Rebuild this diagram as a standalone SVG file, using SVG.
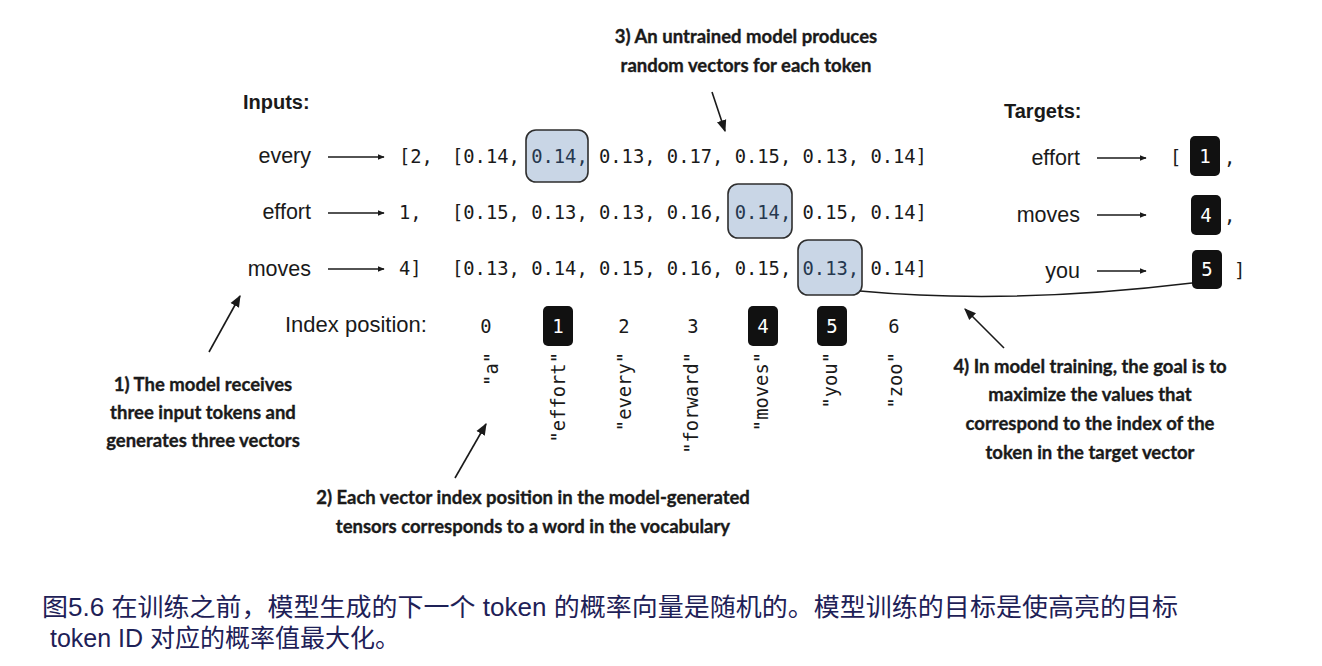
<svg xmlns="http://www.w3.org/2000/svg" width="1322" height="666" viewBox="0 0 1322 666">
<style>
.w{font-family:"Liberation Sans",Arial,sans-serif;font-size:21.5px;fill:#1a1a1a}
.h{font-family:"Liberation Sans",Arial,sans-serif;font-size:20px;font-weight:bold;fill:#1a1a1a}
.m{font-family:"DejaVu Sans Mono","Liberation Mono",monospace;font-size:18.8px;fill:#1a1a1a}
.mw{font-family:"DejaVu Sans Mono","Liberation Mono",monospace;font-size:19px;fill:#ffffff}
.a{font-family:Lato,"Open Sans",sans-serif;font-size:18.5px;font-weight:bold;fill:#1a1a1a;stroke:#1a1a1a;stroke-width:0.35;text-anchor:middle}
.hl{fill:#c9d6e6;stroke:#2e2e2e;stroke-width:1.6}
.bk{fill:#111111}
.ln{stroke:#1a1a1a;stroke-width:1.6;fill:none}
.cap{font-family:"Liberation Sans","Noto Sans CJK SC",sans-serif;font-size:25px;fill:#1e2157}
</style>
<defs>
<marker id="ah" viewBox="0 0 10 10" refX="9" refY="5" markerWidth="7" markerHeight="7" orient="auto" markerUnits="userSpaceOnUse">
<path d="M0,1 L10,5 L0,9 z" fill="#1a1a1a"/>
</marker>
<marker id="ah2" viewBox="0 0 10 10" refX="9" refY="5" markerWidth="12" markerHeight="12" orient="auto" markerUnits="userSpaceOnUse">
<path d="M0,1 L10,5 L0,9 z" fill="#1a1a1a"/>
</marker>
</defs>

<g id="highlights">
<rect class="hl" x="526" y="130" width="62" height="52" rx="10"/>
<rect class="hl" x="728" y="184" width="64" height="54" rx="10"/>
<rect class="hl" x="798" y="240" width="64" height="55" rx="10"/>
</g>

<g id="connectors">
<line class="ln" x1="328" y1="157" x2="384" y2="157" marker-end="url(#ah)"/>
<line class="ln" x1="328" y1="213" x2="384" y2="213" marker-end="url(#ah)"/>
<line class="ln" x1="328" y1="269" x2="384" y2="269" marker-end="url(#ah)"/>
<line class="ln" x1="1097" y1="158" x2="1146" y2="158" marker-end="url(#ah)"/>
<line class="ln" x1="1097" y1="215" x2="1146" y2="215" marker-end="url(#ah)"/>
<line class="ln" x1="1097" y1="271" x2="1146" y2="271" marker-end="url(#ah)"/>
<path class="ln" d="M860,291 Q1010,305 1192,283"/>
<line class="ln" x1="209" y1="352" x2="240" y2="296" marker-end="url(#ah2)"/>
<line class="ln" x1="455" y1="478" x2="486" y2="424" marker-end="url(#ah2)"/>
<line class="ln" x1="712" y1="92" x2="725" y2="131" marker-end="url(#ah2)"/>
<line class="ln" x1="1004" y1="348" x2="965" y2="309" marker-end="url(#ah2)"/>
</g>

<g id="inputs">
<text class="h" x="243" y="109">Inputs:</text>
<text class="w" x="311" y="163" text-anchor="end">every</text>
<text class="w" x="311" y="219" text-anchor="end">effort</text>
<text class="w" x="311" y="276" text-anchor="end">moves</text>
<text class="m" x="399" y="163">[2,</text>
<text class="m" x="399" y="219">1,</text>
<text class="m" x="399" y="275">4]</text>
</g>

<g id="vectors">
<text class="m" x="452" y="163">[0.14, <tspan fill="#26384f">0.14,</tspan> 0.13, 0.17, 0.15, 0.13, 0.14]</text>
<text class="m" x="452" y="219">[0.15, 0.13, 0.13, 0.16, <tspan fill="#26384f">0.14,</tspan> 0.15, 0.14]</text>
<text class="m" x="452" y="275">[0.13, 0.14, 0.15, 0.16, 0.15, <tspan fill="#26384f">0.13,</tspan> 0.14]</text>
</g>

<g id="targets">
<text class="h" x="1004" y="118">Targets:</text>
<text class="w" x="1080" y="165" text-anchor="end">effort</text>
<text class="w" x="1080" y="222" text-anchor="end">moves</text>
<text class="w" x="1080" y="278" text-anchor="end">you</text>
<text class="m" x="1170" y="164">[</text>
<rect class="bk" x="1190" y="136" width="30" height="40" rx="5"/>
<text class="mw" x="1205" y="163" text-anchor="middle">1</text>
<text class="m" x="1224" y="164">,</text>
<rect class="bk" x="1191" y="195" width="30" height="40" rx="5"/>
<text class="mw" x="1206" y="222" text-anchor="middle">4</text>
<text class="m" x="1224" y="222">,</text>
<rect class="bk" x="1192" y="250" width="30" height="39" rx="5"/>
<text class="mw" x="1207" y="276" text-anchor="middle">5</text>
<text class="m" x="1234" y="277">]</text>
</g>

<g id="index">
<text class="w" x="285" y="332" style="font-size:22px">Index position:</text>
<text class="m" x="486" y="333" text-anchor="middle">0</text>
<rect class="bk" x="543" y="306" width="30" height="40" rx="5"/>
<text class="mw" x="558" y="333" text-anchor="middle">1</text>
<text class="m" x="624" y="333" text-anchor="middle">2</text>
<text class="m" x="693" y="333" text-anchor="middle">3</text>
<rect class="bk" x="748" y="306" width="30" height="40" rx="5"/>
<text class="mw" x="763" y="333" text-anchor="middle">4</text>
<rect class="bk" x="817" y="306" width="30" height="40" rx="5"/>
<text class="mw" x="832" y="333" text-anchor="middle">5</text>
<text class="m" x="894" y="333" text-anchor="middle">6</text>
</g>

<g id="vocab">
<text class="m" text-anchor="end" transform="translate(498,352) rotate(-90)">"a"</text>
<text class="m" text-anchor="end" transform="translate(565,352) rotate(-90)">"effort"</text>
<text class="m" text-anchor="end" transform="translate(631,352) rotate(-90)">"every"</text>
<text class="m" text-anchor="end" transform="translate(698,352) rotate(-90)">"forward"</text>
<text class="m" text-anchor="end" transform="translate(768,352) rotate(-90)">"moves"</text>
<text class="m" text-anchor="end" transform="translate(837,352) rotate(-90)">"you"</text>
<text class="m" text-anchor="end" transform="translate(902,352) rotate(-90)">"zoo"</text>
</g>

<g id="note1">
<text class="a" x="203" y="391">1) The model receives</text>
<text class="a" x="203" y="419">three input tokens and</text>
<text class="a" x="203" y="447">generates three vectors</text>
</g>
<g id="note2">
<text class="a" x="533" y="504">2) Each vector index position in the model-generated</text>
<text class="a" x="533" y="533">tensors corresponds to a word in the vocabulary</text>
</g>
<g id="note3">
<text class="a" x="746" y="43">3) An untrained model produces</text>
<text class="a" x="746" y="72">random vectors for each token</text>
</g>
<g id="note4">
<text class="a" x="1090" y="373">4) In model training, the goal is to</text>
<text class="a" x="1090" y="401">maximize the values that</text>
<text class="a" x="1090" y="430">correspond to the index of the</text>
<text class="a" x="1090" y="459">token in the target vector</text>
</g>

<g id="caption">
<text class="cap" x="42" y="616" textLength="1136" lengthAdjust="spacingAndGlyphs">图5.6 在训练之前，模型生成的下一个 token 的概率向量是随机的。模型训练的目标是使高亮的目标</text>
<text class="cap" x="50" y="647">token ID 对应的概率值最大化。</text>
</g>
</svg>
